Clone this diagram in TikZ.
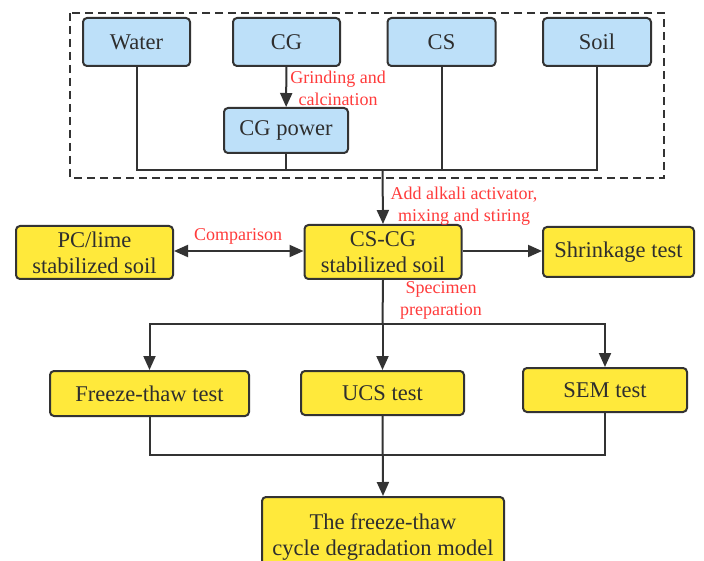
\documentclass[tikz,border=0pt]{standalone}
\usepackage{fontspec}
\setmainfont{Liberation Serif}
\newfontfamily\diagfont{Liberation Serif}
\usetikzlibrary{arrows.meta}
\definecolor{bluefill}{HTML}{BDE0F9}
\definecolor{yellowfill}{HTML}{FFE93B}
\definecolor{edgecol}{HTML}{333333}
\definecolor{redtext}{HTML}{FF3B3B}
\definecolor{boxtext}{HTML}{2E2E2E}
\tikzset{
  box/.style={draw=edgecol, line width=2pt, rounded corners=4pt, align=center, inner sep=0pt,
    font=\diagfont\fontsize{22.5}{26}\selectfont, text=boxtext},
  bluebox/.style={box, fill=bluefill},
  yellowbox/.style={box, fill=yellowfill},
  conn/.style={draw=edgecol, line width=2pt},
  arr/.style={conn, -{Triangle[length=14pt,width=12pt]}},
  darr/.style={conn, {Triangle[length=14pt,width=12pt]}-{Triangle[length=14pt,width=12pt]}},
  lbl/.style={text=redtext, align=center, inner sep=0pt, font=\diagfont\fontsize{18}{22}\selectfont}
}
\begin{document}
\begin{tikzpicture}[x=1pt,y=-1pt]
\useasboundingbox (0,0) rectangle (704,561);
\clip (0,0) rectangle (704,561);
\fill[white] (0,0) rectangle (704,561);
% dashed frame
\draw[edgecol, line width=2pt, dash pattern=on 8pt off 5pt] (70,13) rectangle (664,178);
% blue nodes
\node[bluebox, minimum width=107pt, minimum height=48pt] (water) at (136.5,42) {Water};
\node[bluebox, minimum width=107pt, minimum height=48pt] (cg) at (286.5,42) {CG};
\node[bluebox, minimum width=108pt, minimum height=48pt] (cs) at (441.5,42) {CS};
\node[bluebox, minimum width=108pt, minimum height=48pt] (soil) at (597,42) {Soil};
\node[bluebox, minimum width=124pt, minimum height=45pt] (cgp) at (286,130.5) {CG power};
% yellow nodes
\node[yellowbox, minimum width=157pt, minimum height=53pt] (pc) at (94.5,252.5) {PC/lime\\stabilized soil};
\node[yellowbox, minimum width=157pt, minimum height=54pt] (cscg) at (383,252) {CS-CG\\stabilized soil};
\node[yellowbox, minimum width=151pt, minimum height=50pt] (shr) at (618.5,252) {Shrinkage test};
\node[yellowbox, minimum width=199pt, minimum height=45pt] (ft) at (149.5,393.5) {Freeze-thaw test};
\node[yellowbox, minimum width=163pt, minimum height=44pt] (ucs) at (382.5,393) {UCS test};
\node[yellowbox, minimum width=164pt, minimum height=44pt] (sem) at (605,390) {SEM test};
\node[yellowbox, minimum width=242pt, minimum height=80pt] (model) at (383,537) {The freeze-thaw\\cycle degradation model};
% coordinates
\coordinate (J) at (382.5,170);
\coordinate (B) at (382.5,324);
\coordinate (M) at (382.5,455);
% connectors top
\draw[arr] (cg) -- (cgp);
\draw[conn] (water.south) |- (J);
\draw[conn] (soil.south) |- (J);
\draw[conn] (cs.south) -- (cs.south |- J);
\draw[conn] (cgp.south) -- (cgp.south |- J);
\draw[arr] (J) -- (cscg.north);
% middle
\draw[darr] (pc.east |- 0,251) -- (cscg.west |- 0,251);
\draw[arr] (cscg.east |- 0,251) -- (shr.west |- 0,251);
\draw[conn] (cscg.south) -- (B);
\draw[arr] (B) -| (ft.north);
\draw[arr] (B) -- (ucs.north);
\draw[arr] (B) -| (sem.north);
% bottom
\draw[conn] (ft.south) |- (M);
\draw[conn] (sem.south) |- (M);
\draw[arr] (ucs.south) -- (model.north);
% red labels
\node[lbl] (l1) at (338,88) {Grinding and\\calcination};
\node[lbl] (l2) at (464,206) {Add alkali activator,\\mixing and stiring};
\node[lbl] (l3) at (238,236) {Comparison};
\node[lbl] (l4) at (441,300) {Specimen\\preparation};
\end{tikzpicture}
\end{document}
